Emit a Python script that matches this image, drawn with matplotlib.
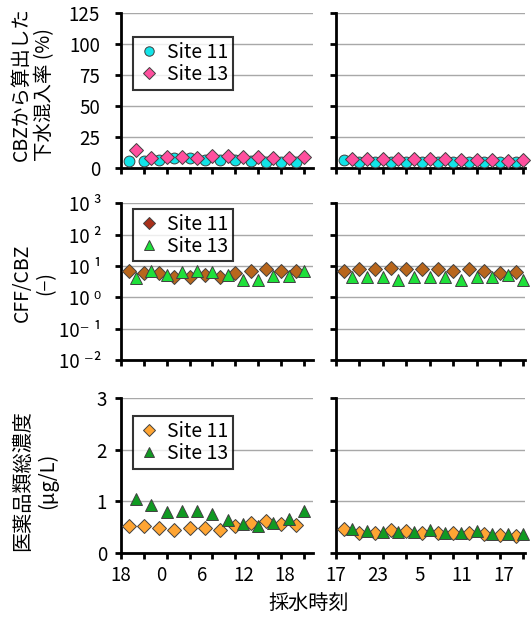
import matplotlib
matplotlib.use("Agg")
import matplotlib.pyplot as plt
from matplotlib.lines import Line2D

plt.rcParams['font.family'] = ['Noto Sans CJK JP', 'DejaVu Sans']

# sampling hours after start of each campaign
hours_11 = [1, 3, 5, 7, 9, 11, 13, 15, 17, 19, 21, 23]
hours_13 = [2, 4, 6, 8, 10, 12, 14, 16, 18, 20, 22, 24]

# x tick labels (clock time)
xlabels_a = ["18", "0", "6", "12", "18"]
xlabels_b = ["17", "23", "5", "11", "17"]
xlabel_pos = [0, 5.3, 10.7, 16.1, 21.5]

# sewage mixing ratio from CBZ (%)
mix_11_a = [5.8, 5.8, 6.6, 7.9, 7.9, 6.6, 6.6, 6.6, 5.8, 5.3, 5.3, 5.3]
mix_13_a = [14.5, 7.9, 8.7, 8.7, 7.9, 9.7, 9.7, 9.2, 9.2, 7.9, 7.9, 8.7]
mix_11_b = [6.6, 4.7, 4.7, 4.7, 4.7, 5.3, 4.7, 4.7, 5.3, 4.7, 4.7, 4.7]
mix_13_b = [7.1, 7.1, 7.1, 7.1, 7.1, 7.1, 7.1, 6.6, 6.6, 6.6, 5.5, 6.6]

# CFF/CBZ ratio
ratio_11_a = [6.9, 6.1, 5.8, 4.5, 4.5, 5.1, 4.5, 5.8, 7.0, 7.8, 7.0, 7.0]
ratio_13_a = [4.0, 7.0, 5.3, 6.5, 7.0, 6.5, 5.1, 3.7, 3.7, 4.7, 4.7, 7.0]
ratio_11_b = [7.0, 7.8, 7.8, 8.4, 7.8, 7.8, 7.8, 7.0, 7.8, 7.0, 6.1, 6.5]
ratio_13_b = [4.5, 4.3, 4.3, 3.7, 4.3, 4.3, 4.3, 3.7, 4.3, 4.3, 5.0, 3.7]

# total pharmaceuticals (ug/L)
conc_11_a = [0.51, 0.51, 0.48, 0.45, 0.48, 0.48, 0.45, 0.51, 0.58, 0.61, 0.55, 0.53]
conc_13_a = [1.04, 0.92, 0.79, 0.81, 0.81, 0.76, 0.63, 0.55, 0.51, 0.58, 0.66, 0.81]
conc_11_b = [0.46, 0.39, 0.39, 0.45, 0.43, 0.39, 0.39, 0.38, 0.39, 0.37, 0.35, 0.33]
conc_13_b = [0.46, 0.43, 0.41, 0.41, 0.41, 0.45, 0.39, 0.39, 0.43, 0.37, 0.37, 0.37]

EDGE = '#404040'
styles = {
    'top':    [dict(marker='o', color='#12E4E8', ms=7.8), dict(marker='D', color='#FF4F9E', ms=7.0)],
    'mid':    [dict(marker='D', color='#B8661C', ms=7.0), dict(marker='^', color='#1EE03A', ms=8.8)],
    'bot':    [dict(marker='D', color='#FFA533', ms=7.0), dict(marker='^', color='#109A22', ms=8.8)],
}
legend_colors = {
    'top': ['#12E4E8', '#FF4F9E'],
    'mid': ['#A8301A', '#1EE03A'],
    'bot': ['#FFA533', '#109A22'],
}

W, H = 531, 623
fig = plt.figure(figsize=(W / 100, H / 100), dpi=100)

def box(x0, x1, ytop, ybot):
    return [x0 / W, 1 - ybot / H, (x1 - x0) / W, (ybot - ytop) / H]

rows = [(12.7, 168.3), (203.3, 360.0), (398.3, 552.7)]
cols = [(121, 313, 25.2), (336, 525, 24.2)]

data = {
    'top': [(mix_11_a, mix_13_a), (mix_11_b, mix_13_b)],
    'mid': [(ratio_11_a, ratio_13_a), (ratio_11_b, ratio_13_b)],
    'bot': [(conc_11_a, conc_13_a), (conc_11_b, conc_13_b)],
}
legend_y = {'top': 0.845, 'mid': 0.965, 'bot': 0.885}
ypad = {'top': 11, 'mid': 10, 'bot': 6}

for r, key in enumerate(['top', 'mid', 'bot']):
    for c in range(2):
        x0, x1, xmax = cols[c]
        ax = fig.add_axes(box(x0, x1, *rows[r]))
        s11, s13 = data[key][c]
        st11, st13 = styles[key]
        ax.plot(hours_11, s11, linestyle='none', marker=st11['marker'], ms=st11['ms'],
                mfc=st11['color'], mec=EDGE, mew=0.7, clip_on=False, zorder=3)
        ax.plot(hours_13, s13, linestyle='none', marker=st13['marker'], ms=st13['ms'],
                mfc=st13['color'], mec=EDGE, mew=0.7, clip_on=False, zorder=4)
        ax.set_xlim(0, xmax)
        ax.set_xticks(range(0, 25, 3))
        ax.set_xticklabels([])
        if key == 'top':
            ax.set_ylim(0, 125)
            ax.set_yticks([0, 25, 50, 75, 100, 125])
            ylabs = ['0', '25', '50', '75', '100', '125']
        elif key == 'mid':
            ax.set_yscale('log')
            ax.set_ylim(1e-2, 1e3)
            ax.set_yticks([1e-2, 1e-1, 1, 10, 100, 1000])
            ax.yaxis.set_minor_locator(matplotlib.ticker.NullLocator())
            ylabs = ['10 ⁻²', '10⁻ ¹', '10 ⁰', '10 ¹', '10 ²', '10 ³']
        else:
            ax.set_ylim(0, 3)
            ax.set_yticks([0, 1, 2, 3])
            ylabs = ['0', '1', '2', '3']
        if c == 0:
            ax.set_yticklabels(ylabs, fontsize=13.5)
        else:
            ax.set_yticklabels([])
        for sp in ['top', 'right']:
            ax.spines[sp].set_visible(False)
        for sp in ['left', 'bottom']:
            ax.spines[sp].set_linewidth(2)
        ax.tick_params(axis='both', which='major', direction='out', length=4, width=2,
                       color='black')
        ax.tick_params(axis='y', pad=ypad[key])
        ax.yaxis.grid(True, color='#A8A8A8', linewidth=1)
        ax.set_axisbelow(True)
        if key == 'bot':
            ax.xaxis.remove_overlapping_locs = False
            ax.set_xticks(xlabel_pos, minor=True)
            ax.set_xticklabels(xlabels_a if c == 0 else xlabels_b, minor=True, fontsize=13.5)
            ax.tick_params(axis='x', which='minor', length=0, pad=9)
        if c == 0:
            lc = legend_colors[key]
            handles = [
                Line2D([], [], linestyle='none', marker=st11['marker'], ms=st11['ms'] - 1,
                       mfc=lc[0], mec=EDGE, mew=0.7),
                Line2D([], [], linestyle='none', marker=st13['marker'], ms=st13['ms'] - 1,
                       mfc=lc[1], mec=EDGE, mew=0.7),
            ]
            leg = ax.legend(handles, ['Site 11', 'Site 13'], loc='upper left',
                            bbox_to_anchor=(0.065, legend_y[key]), fontsize=14,
                            frameon=True, fancybox=False, handlelength=1.1,
                            handletextpad=0.35, borderpad=0.25, labelspacing=0.05,
                            borderaxespad=0)
            leg.get_frame().set_edgecolor('black')
            leg.get_frame().set_linewidth(1.5)

fig.text(33 / W, 1 - 84 / H, 'CBZから算出した\n下水混入率 (%)', rotation=90,
         ha='center', va='center', multialignment='left', fontsize=14)
fig.text(34 / W, 1 - 283 / H, 'CFF/CBZ\n(−)', rotation=90,
         ha='center', va='center', multialignment='center', fontsize=14)
fig.text(35 / W, 1 - 481 / H, '医薬品類総濃度\n(μg/L)', rotation=90,
         ha='center', va='center', multialignment='center', fontsize=14.5)
fig.text(309 / W, 1 - 603 / H, '採水時刻', ha='center', va='center', fontsize=14.5)

fig.savefig('out.png', dpi=100)
